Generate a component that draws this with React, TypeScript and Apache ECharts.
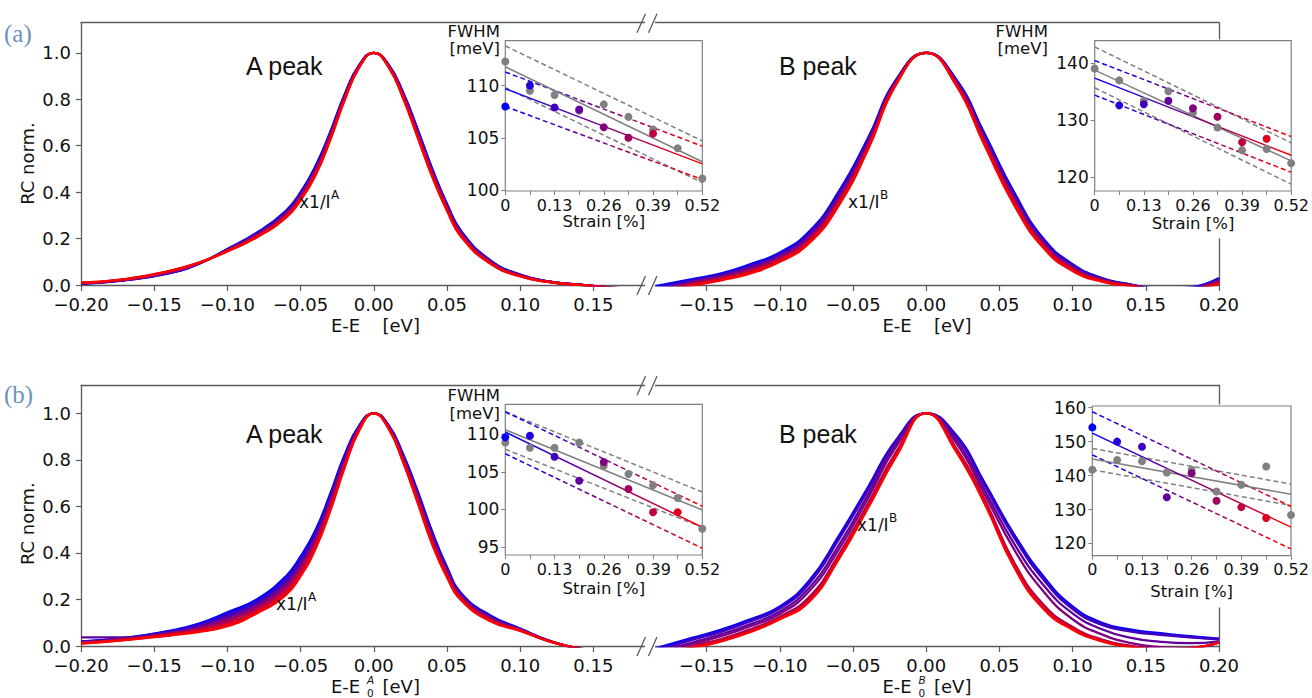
import { useEffect, useRef } from 'react';
import * as echarts from 'echarts';

// Energy grids (eV) on which the normalised reflectance-contrast curves are sampled
const energyA = [-0.2, -0.17, -0.14, -0.12, -0.1, -0.08, -0.06, -0.05, -0.04, -0.03, -0.02, -0.01, 0, 0.01, 0.02, 0.03, 0.04, 0.05, 0.06, 0.08, 0.1, 0.12, 0.14, 0.16, 0.185];
const energyB = [-0.185, -0.16, -0.14, -0.12, -0.1, -0.08, -0.06, -0.04, -0.02, 0, 0.02, 0.04, 0.06, 0.08, 0.1, 0.12, 0.14, 0.16, 0.18, 0.2];

// (a) A peak, one curve per strain step (0 % blue ... 0.52 % red)
const rcTopA = [
  [0.005, 0.02, 0.05, 0.09, 0.155, 0.225, 0.32, 0.4, 0.51, 0.655, 0.82, 0.947, 1, 0.95, 0.83, 0.67, 0.5, 0.35, 0.23, 0.105, 0.045, 0.015, 0.002, -0.01, -0.02],
  [0.006, 0.021, 0.051, 0.091, 0.154, 0.222, 0.316, 0.396, 0.505, 0.651, 0.817, 0.946, 1, 0.949, 0.827, 0.666, 0.496, 0.346, 0.227, 0.103, 0.044, 0.015, 0.002, -0.01, -0.02],
  [0.006, 0.021, 0.053, 0.091, 0.153, 0.22, 0.312, 0.391, 0.5, 0.646, 0.814, 0.945, 1, 0.947, 0.824, 0.661, 0.491, 0.343, 0.224, 0.101, 0.043, 0.014, 0.002, -0.01, -0.02],
  [0.007, 0.022, 0.054, 0.092, 0.151, 0.217, 0.309, 0.387, 0.495, 0.642, 0.811, 0.943, 1, 0.946, 0.821, 0.657, 0.487, 0.339, 0.221, 0.099, 0.042, 0.014, 0.001, -0.01, -0.02],
  [0.007, 0.022, 0.055, 0.092, 0.15, 0.215, 0.305, 0.383, 0.49, 0.638, 0.808, 0.942, 1, 0.945, 0.818, 0.653, 0.483, 0.335, 0.218, 0.098, 0.041, 0.014, 0.001, -0.01, -0.02],
  [0.008, 0.023, 0.056, 0.093, 0.149, 0.212, 0.301, 0.378, 0.485, 0.633, 0.804, 0.941, 1, 0.944, 0.814, 0.648, 0.478, 0.331, 0.214, 0.096, 0.04, 0.013, 0.001, -0.01, -0.02],
  [0.009, 0.024, 0.058, 0.094, 0.148, 0.21, 0.297, 0.374, 0.48, 0.629, 0.801, 0.94, 1, 0.942, 0.811, 0.644, 0.474, 0.328, 0.211, 0.094, 0.039, 0.013, 0.001, -0.01, -0.02],
  [0.009, 0.024, 0.059, 0.094, 0.146, 0.207, 0.294, 0.369, 0.475, 0.624, 0.798, 0.938, 1, 0.941, 0.808, 0.639, 0.469, 0.324, 0.208, 0.092, 0.038, 0.012, 0.0, -0.01, -0.02],
  [0.01, 0.025, 0.06, 0.095, 0.145, 0.205, 0.29, 0.365, 0.47, 0.62, 0.795, 0.937, 1, 0.94, 0.805, 0.635, 0.465, 0.32, 0.205, 0.09, 0.037, 0.012, 0.0, -0.01, -0.02],
];

// (a) B peak
const rcTopB = [
  [-0.005, 0.025, 0.05, 0.09, 0.14, 0.23, 0.4, 0.63, 0.89, 1, 0.89, 0.65, 0.4, 0.2, 0.09, 0.03, 0.002, -0.015, -0.01, 0.03],
  [-0.011, 0.021, 0.046, 0.085, 0.135, 0.224, 0.393, 0.624, 0.888, 1, 0.887, 0.644, 0.393, 0.195, 0.086, 0.028, 0.001, -0.016, -0.011, 0.027],
  [-0.016, 0.018, 0.043, 0.08, 0.13, 0.218, 0.385, 0.618, 0.885, 1, 0.884, 0.638, 0.386, 0.19, 0.083, 0.026, 0.0, -0.016, -0.013, 0.024],
  [-0.022, 0.014, 0.039, 0.075, 0.125, 0.211, 0.378, 0.611, 0.883, 1, 0.881, 0.631, 0.379, 0.185, 0.079, 0.024, 0.0, -0.017, -0.014, 0.021],
  [-0.028, 0.01, 0.035, 0.07, 0.12, 0.205, 0.37, 0.605, 0.88, 1, 0.878, 0.625, 0.373, 0.18, 0.075, 0.023, -0.002, -0.018, -0.015, 0.018],
  [-0.033, 0.006, 0.031, 0.065, 0.115, 0.199, 0.363, 0.599, 0.878, 1, 0.874, 0.619, 0.366, 0.175, 0.071, 0.021, -0.002, -0.018, -0.016, 0.014],
  [-0.039, 0.003, 0.028, 0.06, 0.11, 0.193, 0.355, 0.593, 0.875, 1, 0.871, 0.613, 0.359, 0.17, 0.068, 0.019, -0.003, -0.019, -0.018, 0.011],
  [-0.044, -0.001, 0.024, 0.055, 0.105, 0.186, 0.348, 0.586, 0.873, 1, 0.868, 0.606, 0.352, 0.165, 0.064, 0.017, -0.004, -0.02, -0.019, 0.008],
  [-0.05, -0.005, 0.02, 0.05, 0.1, 0.18, 0.34, 0.58, 0.87, 1, 0.865, 0.6, 0.345, 0.16, 0.06, 0.015, -0.005, -0.02, -0.02, 0.005],
];

// (b) A peak
const rcBotA = [
  [0.02, 0.035, 0.065, 0.095, 0.145, 0.2, 0.3, 0.385, 0.495, 0.65, 0.82, 0.947, 1, 0.95, 0.825, 0.665, 0.49, 0.34, 0.225, 0.13, 0.075, 0.022, -0.01, -0.02, -0.02],
  [0.019, 0.034, 0.063, 0.091, 0.138, 0.193, 0.29, 0.374, 0.485, 0.641, 0.813, 0.944, 1, 0.948, 0.821, 0.659, 0.483, 0.334, 0.221, 0.127, 0.074, 0.022, -0.01, -0.02, -0.02],
  [0.018, 0.033, 0.06, 0.086, 0.13, 0.185, 0.28, 0.364, 0.475, 0.631, 0.806, 0.942, 1, 0.946, 0.816, 0.653, 0.476, 0.329, 0.218, 0.124, 0.073, 0.022, -0.01, -0.02, -0.02],
  [0.037, 0.037, 0.045, 0.082, 0.123, 0.178, 0.27, 0.353, 0.465, 0.622, 0.8, 0.939, 1, 0.944, 0.812, 0.646, 0.469, 0.323, 0.214, 0.12, 0.071, 0.021, -0.01, -0.02, -0.02],
  [0.015, 0.03, 0.055, 0.078, 0.115, 0.17, 0.26, 0.343, 0.455, 0.613, 0.793, 0.936, 1, 0.943, 0.808, 0.64, 0.463, 0.318, 0.21, 0.118, 0.07, 0.021, -0.01, -0.02, -0.02],
  [0.014, 0.029, 0.053, 0.073, 0.108, 0.163, 0.25, 0.332, 0.445, 0.603, 0.786, 0.934, 1, 0.941, 0.803, 0.634, 0.456, 0.312, 0.206, 0.114, 0.069, 0.021, -0.01, -0.02, -0.02],
  [0.013, 0.028, 0.05, 0.069, 0.1, 0.155, 0.24, 0.321, 0.435, 0.594, 0.779, 0.931, 1, 0.939, 0.799, 0.628, 0.449, 0.306, 0.203, 0.111, 0.068, 0.021, -0.01, -0.02, -0.02],
  [0.011, 0.026, 0.048, 0.064, 0.093, 0.148, 0.23, 0.311, 0.425, 0.584, 0.772, 0.928, 1, 0.937, 0.794, 0.621, 0.442, 0.301, 0.199, 0.108, 0.066, 0.02, -0.01, -0.02, -0.02],
  [0.01, 0.025, 0.045, 0.06, 0.085, 0.14, 0.22, 0.3, 0.415, 0.575, 0.765, 0.925, 1, 0.935, 0.79, 0.615, 0.435, 0.295, 0.195, 0.105, 0.065, 0.02, -0.01, -0.02, -0.02],
];

// (b) B peak
const rcBotB = [
  [-0.01, 0.035, 0.07, 0.115, 0.17, 0.28, 0.47, 0.68, 0.89, 1, 0.91, 0.7, 0.48, 0.3, 0.17, 0.1, 0.07, 0.055, 0.042, 0.032],
  [-0.015, 0.03, 0.066, 0.111, 0.166, 0.275, 0.463, 0.675, 0.887, 1, 0.906, 0.695, 0.474, 0.294, 0.165, 0.096, 0.066, 0.051, 0.039, 0.03],
  [-0.02, 0.026, 0.061, 0.106, 0.161, 0.268, 0.455, 0.668, 0.884, 1, 0.902, 0.688, 0.466, 0.286, 0.159, 0.091, 0.062, 0.048, 0.037, 0.029],
  [-0.028, 0.015, 0.05, 0.094, 0.148, 0.25, 0.43, 0.648, 0.873, 1, 0.889, 0.668, 0.44, 0.262, 0.14, 0.072, 0.035, 0.018, 0.012, 0.02],
  [-0.034, 0.008, 0.042, 0.085, 0.138, 0.235, 0.412, 0.632, 0.862, 1, 0.876, 0.65, 0.415, 0.235, 0.115, 0.05, 0.012, -0.005, -0.01, 0.015],
  [-0.042, 0.0, 0.03, 0.072, 0.126, 0.21, 0.39, 0.61, 0.84, 1, 0.855, 0.628, 0.36, 0.178, 0.082, 0.028, 0.0, -0.012, -0.008, 0.015],
  [-0.045, -0.004, 0.026, 0.067, 0.121, 0.202, 0.383, 0.603, 0.833, 1, 0.849, 0.622, 0.354, 0.172, 0.078, 0.025, -0.002, -0.013, -0.009, 0.015],
  [-0.048, -0.007, 0.023, 0.063, 0.118, 0.196, 0.376, 0.596, 0.826, 1, 0.845, 0.616, 0.347, 0.166, 0.074, 0.022, -0.004, -0.014, -0.01, 0.015],
  [-0.05, -0.01, 0.02, 0.06, 0.115, 0.19, 0.37, 0.59, 0.82, 1, 0.84, 0.61, 0.34, 0.16, 0.07, 0.02, -0.005, -0.015, -0.01, 0.015],
];

// Strain steps (%) and FWHM (meV) for the insets
const strain = [0, 0.065, 0.13, 0.195, 0.26, 0.325, 0.39, 0.455, 0.52];
const strainLabels = [0, 0.13, 0.26, 0.39, 0.52];

const fwhmTopAColor = [108.0, 110.0, 107.9, 107.7, 106.0, 105.0, 105.4, null, null];
const fwhmTopAGray = [112.3, 109.5, 109.1, 107.6, 108.2, 107.0, 105.8, 104.0, 101.1];
// linear fits at 0 % and 0.52 %: [fit, upper, lower] for colour, then for grey
const fitTopA = [[109.7, 102.5], [111.3, 104.2], [108.0, 101.0], [111.8, 102.7], [113.8, 104.7], [109.8, 100.7]];

const fwhmTopBColor = [null, 132.6, 132.8, 133.4, 132.1, 130.6, 126.1, 126.7, null];
const fwhmTopBGray = [139.1, 137.0, 133.4, 135.1, 131.3, 128.7, 124.7, 124.9, 122.4];
const fitTopB = [[137.4, 123.8], [140.5, 127.1], [134.4, 120.8], [138.8, 122.8], [142.9, 126.0], [135.7, 118.7]];

const fwhmBotAColor = [109.6, 109.8, 107.0, 103.8, 106.3, 102.7, 99.6, 99.6, null];
const fwhmBotAGray = [108.9, 108.2, 108.2, 108.9, 105.8, 104.7, 103.2, 101.5, 97.4];
const fitBotA = [[110.3, 97.6], [113.0, 100.4], [107.4, 94.8], [110.6, 99.9], [113.0, 102.3], [108.0, 97.6]];

const fwhmBotBColor = [154.2, 150.0, 148.5, 133.6, 140.7, 132.6, 130.7, 127.5, null];
const fwhmBotBGray = [141.7, 144.6, 144.2, 140.9, 141.7, 135.3, 137.3, 142.7, 128.4];
const fitBotB = [[152.5, 124.8], [158.8, 130.9], [146.1, 118.4], [144.9, 134.5], [148.0, 137.5], [141.7, 131.2]];

const rcTicks = [0, 0.2, 0.4, 0.6, 0.8, 1.0];
const energyTicksA = [-0.2, -0.15, -0.1, -0.05, 0, 0.05, 0.1, 0.15];
const energyTicksB = [-0.15, -0.1, -0.05, 0, 0.05, 0.1, 0.15, 0.2];

const FONT = "'DejaVu Sans', sans-serif";
const SANS = "'Liberation Sans', Arial, sans-serif";
const SPINE = '#5a5a5a';
const INSET_SPINE = '#808080';
const GREY = '#808080';

function strainColor(i: number) {
  const t = i / 8;
  return `rgb(${Math.round(255 * t)},0,${Math.round(255 * (1 - t))})`;
}

const fmtEnergy = (v: number) => (v < -1e-9 ? '\u2212' : '') + Math.abs(v).toFixed(2);

function txt(x: number, y: number, text: string, size: number, opts: any = {}) {
  return {
    type: 'text',
    x,
    y,
    rotation: opts.rotation || 0,
    z: 20,
    silent: true,
    style: {
      text,
      fill: opts.color || '#111',
      fontSize: size,
      fontFamily: opts.family || FONT,
      fontStyle: opts.italic ? 'italic' : 'normal',
      align: opts.align || 'left',
      verticalAlign: opts.valign || 'middle',
      ...(opts.rich ? { rich: opts.rich } : {}),
    },
  };
}

function buildOption() {
  const grid: any[] = [];
  const xAxis: any[] = [];
  const yAxis: any[] = [];
  const series: any[] = [];
  const graphic: any[] = [];

  const rows = [
    { top: 22.7, height: 262.3, ymax: 1.13 },
    { top: 385.4, height: 260.6, ymax: 1.12 },
  ];
  const cols = [
    { left: 81, width: 563.6, min: -0.2, max: 0.185, ticks: energyTicksA, xs: energyA, isA: true },
    { left: 655.4, width: 563.6, min: -0.185, max: 0.2, ticks: energyTicksB, xs: energyB, isA: false },
  ];
  const spine = { color: SPINE, width: 1.3 };

  const addMain = (row: any, col: any, curves: number[][]) => {
    const gi = grid.length;
    grid.push({ left: col.left, top: row.top, width: col.width, height: row.height, show: false });
    const xi = xAxis.length;
    xAxis.push({
      gridIndex: gi, type: 'value', min: col.min, max: col.max, position: 'bottom',
      axisLine: { show: true, onZero: false, lineStyle: spine },
      axisTick: { show: true, length: 6, customValues: col.ticks, lineStyle: { color: SPINE, width: 1.2 } },
      axisLabel: { customValues: col.ticks, formatter: fmtEnergy, fontSize: 18, fontFamily: FONT, color: '#111', margin: 10 },
      splitLine: { show: false },
    });
    xAxis.push({
      gridIndex: gi, type: 'value', min: col.min, max: col.max, position: 'top',
      axisLine: { show: true, onZero: false, lineStyle: spine },
      axisTick: { show: false }, axisLabel: { show: false }, splitLine: { show: false },
    });
    const yi = yAxis.length;
    yAxis.push({
      gridIndex: gi, type: 'value', min: 0, max: row.ymax, position: col.isA ? 'left' : 'right',
      axisLine: { show: true, onZero: false, lineStyle: spine },
      axisTick: col.isA ? { show: true, length: 5, customValues: rcTicks, lineStyle: { color: SPINE, width: 1.2 } } : { show: false },
      axisLabel: col.isA
        ? { customValues: rcTicks, formatter: (v: number) => v.toFixed(1), fontSize: 18, fontFamily: FONT, color: '#111', margin: 10 }
        : { show: false },
      splitLine: { show: false },
    });
    curves.forEach((ys, i) => {
      series.push({
        type: 'line', xAxisIndex: xi, yAxisIndex: yi,
        data: col.xs.map((x: number, k: number) => [x, ys[k]]),
        smooth: 0.5, symbol: 'none', clip: true, silent: true, z: 2,
        lineStyle: { color: strainColor(i), width: 2.3 },
      });
    });
  };

  addMain(rows[0], cols[0], rcTopA);
  addMain(rows[0], cols[1], rcTopB);
  addMain(rows[1], cols[0], rcBotA);
  addMain(rows[1], cols[1], rcBotB);

  const addInset = (box: number[], yr: number[], yticks: number[], colored: (number | null)[], grey: number[], fits: number[][]) => {
    const [l, t, r, b] = box;
    const gi = grid.length;
    grid.push({
      left: l, top: t, width: r - l, height: b - t, show: true, backgroundColor: '#fff',
      borderColor: INSET_SPINE, borderWidth: 1.2, z: 6,
    });
    const xi = xAxis.length;
    xAxis.push({
      gridIndex: gi, type: 'value', min: 0, max: 0.52, z: 7,
      axisLine: { show: false },
      axisTick: { show: true, length: 4, customValues: strain, lineStyle: { color: INSET_SPINE, width: 1 } },
      axisLabel: {
        customValues: strainLabels, formatter: (v: number) => (v === 0 ? '0' : v.toFixed(2)),
        fontSize: 16, fontFamily: FONT, color: '#111', margin: 6,
      },
      splitLine: { show: false },
    });
    const yi = yAxis.length;
    yAxis.push({
      gridIndex: gi, type: 'value', min: yr[0], max: yr[1], z: 7,
      axisLine: { show: false },
      axisTick: { show: true, length: 4, customValues: yticks, lineStyle: { color: INSET_SPINE, width: 1 } },
      axisLabel: { customValues: yticks, formatter: (v: number) => String(Math.round(v)), fontSize: 17, fontFamily: FONT, color: '#111', margin: 6 },
      splitLine: { show: false },
    });
    const grad = () => new echarts.graphic.LinearGradient(0, 0, 1, 0, [
      { offset: 0, color: 'rgb(0,0,255)' },
      { offset: 1, color: 'rgb(255,0,0)' },
    ]);
    const fitLine = (pair: number[], color: any, dashed: boolean) => ({
      type: 'line', xAxisIndex: xi, yAxisIndex: yi, z: 9, silent: true, symbol: 'none', clip: true,
      data: [[0, pair[0]], [0.52, pair[1]]],
      lineStyle: { color, width: 1.5, type: dashed ? [5, 3] : 'solid' },
    });
    series.push(fitLine(fits[4], GREY, true));
    series.push(fitLine(fits[5], GREY, true));
    series.push(fitLine(fits[1], grad(), true));
    series.push(fitLine(fits[2], grad(), true));
    series.push(fitLine(fits[3], GREY, false));
    series.push(fitLine(fits[0], grad(), false));
    series.push({
      type: 'scatter', xAxisIndex: xi, yAxisIndex: yi, z: 10, silent: true, symbolSize: 8,
      itemStyle: { color: GREY, opacity: 1 },
      data: strain.map((s, k) => [s, grey[k]]),
    });
    series.push({
      type: 'scatter', xAxisIndex: xi, yAxisIndex: yi, z: 11, silent: true, symbolSize: 8,
      data: strain
        .map((s, k) => (colored[k] == null ? null : { value: [s, colored[k]], itemStyle: { color: strainColor(k), opacity: 1 } }))
        .filter((d) => d !== null),
    });
  };

  addInset([505.3, 40.7, 702.3, 191], [99.9, 114.3], [100, 105, 110], fwhmTopAColor, fwhmTopAGray, fitTopA);
  addInset([1094.7, 40.7, 1291.7, 191], [117.5, 144], [120, 130, 140], fwhmTopBColor, fwhmTopBGray, fitTopB);
  addInset([505.3, 404.3, 702.3, 555], [93.9, 114], [95, 100, 105, 110], fwhmBotAColor, fwhmBotAGray, fitBotA);
  addInset([1092.3, 406, 1291, 555.7], [116.4, 160.5], [120, 130, 140, 150, 160], fwhmBotBColor, fwhmBotBGray, fitBotB);

  // white patches behind the right-hand insets (they sit over the main frame)
  graphic.push({ type: 'rect', z: 5, silent: true, shape: { x: 1080, y: 39.5, width: 225, height: 199 }, style: { fill: '#fff' } });
  graphic.push({ type: 'rect', z: 5, silent: true, shape: { x: 1080, y: 404.5, width: 225, height: 203 }, style: { fill: '#fff' } });

  // axis break marks
  const breakMarks = (yc: number) => {
    [0, 11.5].forEach((dx) => {
      graphic.push({
        type: 'line', z: 20, silent: true,
        shape: { x1: 637 + dx, y1: yc + 9.5, x2: 645.5 + dx, y2: yc - 9.5 },
        style: { stroke: SPINE, lineWidth: 1.3 },
      });
    });
  };
  breakMarks(23.3);
  breakMarks(285.5);
  breakMarks(385.8);
  breakMarks(646.5);

  // panel letters
  graphic.push(txt(4, 33, '(a)', 25, { family: "'Liberation Serif', serif", color: '#6f92b8' }));
  graphic.push(txt(4, 394, '(b)', 25, { family: "'Liberation Serif', serif", color: '#6f92b8' }));

  // y-axis titles
  graphic.push(txt(27, 163.5, 'RC norm.', 18, { rotation: Math.PI / 2, align: 'center' }));
  graphic.push(txt(27, 523.7, 'RC norm.', 18, { rotation: Math.PI / 2, align: 'center' }));

  // x-axis titles; the reference energy E0 carries the peak name above and 0 below
  const eTitle = (left: number, y: number, peak: string | null) => {
    graphic.push(txt(left, y, 'E-E', 18));
    if (peak) {
      graphic.push(txt(left + 36, y, `{i|${peak}}\n{n|0}`, 10.5, {
        rich: {
          i: { fontStyle: 'italic', fontSize: 10.5, lineHeight: 13, fontFamily: FONT, fill: '#111' },
          n: { fontSize: 10.5, lineHeight: 13, fontFamily: FONT, fill: '#111' },
        },
      }));
    }
    graphic.push(txt(left + 51.5, y, '[eV]', 18));
  };
  eTitle(331, 325, null);
  eTitle(882.5, 325, null);
  eTitle(331, 686, 'A');
  eTitle(882.5, 686, 'B');

  // peak names
  graphic.push(txt(246, 66, 'A peak', 25, { family: SANS }));
  graphic.push(txt(779, 66, 'B peak', 25, { family: SANS }));
  graphic.push(txt(246, 433.5, 'A peak', 25, { family: SANS }));
  graphic.push(txt(779, 433.5, 'B peak', 25, { family: SANS }));

  // intensity scaling notes
  const scaleNote = (x: number, y: number, sup: string) => {
    graphic.push(txt(x, y, 'x1/I', 17));
    graphic.push(txt(x + 32, y - 7, sup, 12));
  };
  scaleNote(299, 202, 'A');
  scaleNote(848, 202, 'B');
  scaleNote(276, 603.5, 'A');
  scaleNote(857, 525, 'B');

  // inset titles
  const fwhmTitle = (right: number, y1: number, y2: number) => {
    graphic.push(txt(right, y1, 'FWHM', 16.5, { align: 'right' }));
    graphic.push(txt(right, y2, '[meV]', 16.5, { align: 'right' }));
  };
  fwhmTitle(500, 31.7, 48.3);
  fwhmTitle(1048, 31.7, 48.3);
  fwhmTitle(500, 395, 413);

  graphic.push(txt(603.8, 221.5, 'Strain [%]', 16.5, { align: 'center' }));
  graphic.push(txt(1193, 223, 'Strain [%]', 16.5, { align: 'center' }));
  graphic.push(txt(603.8, 588.5, 'Strain [%]', 16.5, { align: 'center' }));
  graphic.push(txt(1191.7, 591.7, 'Strain [%]', 16.5, { align: 'center' }));

  return {
    animation: false,
    backgroundColor: '#fff',
    grid, xAxis, yAxis, series,
    graphic: { elements: graphic },
  };
}

export default function App() {
  const ref = useRef<HTMLDivElement>(null);
  useEffect(() => {
    if (!ref.current) return;
    const chart = echarts.init(ref.current, undefined, { renderer: 'svg' });
    chart.setOption(buildOption() as any);
    return () => chart.dispose();
  }, []);
  return (
    <div
      ref={ref}
      style={{ position: 'fixed', left: 0, top: 0, width: 1312, height: 698, background: '#fff' }}
    />
  );
}
